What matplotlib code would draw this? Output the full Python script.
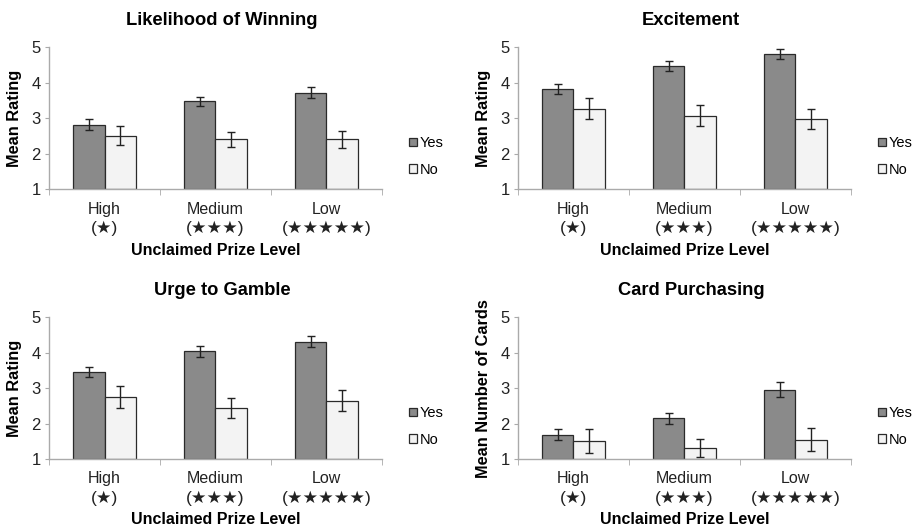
import matplotlib.pyplot as plt
import numpy as np

plt.rcParams['font.family'] = ['Liberation Sans', 'DejaVu Sans']

levels = ["High", "Medium", "Low"]
stars = ["(\u2605)", "(\u2605\u2605\u2605)", "(\u2605\u2605\u2605\u2605\u2605)"]
titles = ["Likelihood of Winning", "Excitement", "Urge to Gamble", "Card Purchasing"]
ylabels = ["Mean Rating", "Mean Rating", "Mean Rating", "Mean Number of Cards"]

# means and standard errors, Yes / No groups
win_yes = [2.82, 3.48, 3.72]
win_yes_err = [0.15, 0.13, 0.15]
win_no = [2.51, 2.40, 2.40]
win_no_err = [0.27, 0.22, 0.24]

exc_yes = [3.82, 4.47, 4.82]
exc_yes_err = [0.15, 0.14, 0.14]
exc_no = [3.27, 3.07, 2.97]
exc_no_err = [0.30, 0.29, 0.29]

urge_yes = [3.45, 4.04, 4.31]
urge_yes_err = [0.15, 0.15, 0.16]
urge_no = [2.74, 2.44, 2.65]
urge_no_err = [0.31, 0.27, 0.30]

card_yes = [1.69, 2.15, 2.96]
card_yes_err = [0.16, 0.15, 0.20]
card_no = [1.51, 1.32, 1.55]
card_no_err = [0.34, 0.25, 0.33]

panels = [
    (win_yes, win_yes_err, win_no, win_no_err),
    (exc_yes, exc_yes_err, exc_no, exc_no_err),
    (urge_yes, urge_yes_err, urge_no, urge_no_err),
    (card_yes, card_yes_err, card_no, card_no_err),
]

fig = plt.figure(figsize=(9.16, 5.31), dpi=100)
boxes = [
    [0.0535, 0.644, 0.3635, 0.267],
    [0.5655, 0.644, 0.3635, 0.267],
    [0.0535, 0.1356, 0.3635, 0.267],
    [0.5655, 0.1356, 0.3635, 0.267],
]

x = np.arange(3)
w = 0.285
ekw = dict(elinewidth=1, capthick=1, ecolor='#222222')
for box, title, ylab, (yes, yes_e, no, no_e) in zip(boxes, titles, ylabels, panels):
    ax = fig.add_axes(box)
    ax.bar(x - w / 2, np.array(yes) - 1, w, bottom=1, color='#8a8a8a',
           edgecolor='#2a2a2a', linewidth=0.9, label='Yes', yerr=yes_e,
           capsize=3, error_kw=ekw)
    ax.bar(x + w / 2, np.array(no) - 1, w, bottom=1, color='#f3f3f3',
           edgecolor='#2a2a2a', linewidth=0.9, label='No', yerr=no_e,
           capsize=3, error_kw=ekw)
    ax.set_xlim(-0.5, 2.5)
    ax.set_ylim(1, 5)
    ax.set_yticks([1, 2, 3, 4, 5])
    ax.set_xticks(x)
    ax.set_xticklabels(levels, fontsize=11.5)
    for xi, s in zip(x, stars):
        ax.text(xi, -0.28, s, transform=ax.get_xaxis_transform(),
                ha='center', va='center', fontsize=12.5, color='#222222')
    ax.set_xticks([-0.5, 0.5, 1.5, 2.5], minor=True)
    ax.tick_params(axis='x', which='major', length=0, pad=9, labelcolor='#222222')
    ax.tick_params(axis='x', which='minor', length=4, color='#aaaaaa', direction='out')
    ax.tick_params(axis='y', length=3, color='#aaaaaa', labelsize=12, pad=3,
                   labelcolor='#222222')
    for s in ['top', 'right']:
        ax.spines[s].set_visible(False)
    for s in ['left', 'bottom']:
        ax.spines[s].set_color('#aaaaaa')
        ax.spines[s].set_linewidth(1)
    ax.set_title(title, fontsize=13.2, fontweight='bold', x=0.52, pad=16)
    ax.set_ylabel(ylab, fontsize=11.8, fontweight='bold', labelpad=7)
    ax.set_xlabel("Unclaimed Prize Level", fontsize=11.5, fontweight='bold')
    ax.xaxis.label.set_va('center')
    ax.xaxis.set_label_coords(0.5, -0.43)
    ax.legend(loc='center left', bbox_to_anchor=(1.06, 0.23), frameon=False,
              fontsize=10.5, handlelength=0.5, handleheight=0.5, handletextpad=0.2,
              labelspacing=0.85, borderpad=0)

fig.savefig('out.png', dpi=100)
